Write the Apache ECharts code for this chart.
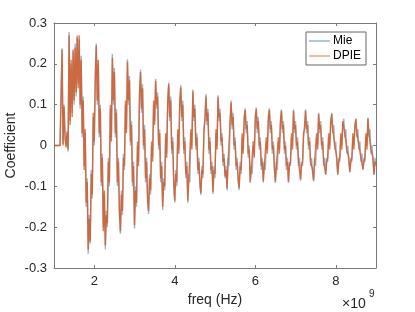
<!DOCTYPE html>
<html>
<head>
<meta charset="utf-8">
<script src="https://cdn.jsdelivr.net/npm/echarts@6.0.0/dist/echarts.min.js"></script>
<style>
html,body{margin:0;padding:0;background:#fff;}
#chart{width:415px;height:312px;}
</style>
</head>
<body>
<div id="chart"></div>
<script>
// frequency sweep (units of 1e9 Hz): uniform sampling grid
const freqStart = 1.0;
const freqStep = 0.025;

const mieValues = [
0,0,0,0,0,0,0,0,0.238,0.004,
0.1,0.015,0,0.03,-0.015,0.278,0.06,0.2,0.08,0.23,
0.1,0.25,0.12,0.27,0.15,0.26,0.09,0.22,0.02,0.12,
-0.05,0.03,-0.15,-0.08,-0.265,-0.17,-0.24,-0.06,-0.13,0.07,
0,0.17,0.25,0.1,0.2,0.02,0.1,-0.1,-0.02,-0.2,
-0.12,-0.254,-0.16,-0.2,-0.03,-0.1,0.09,0.02,0.224,0.1,
0.19,0.02,0.09,-0.1,-0.03,-0.17,-0.216,-0.11,-0.17,-0.02,
-0.06,0.1,0.04,0.211,0.1,0.17,0,0.06,-0.1,-0.04,
-0.203,-0.1,-0.15,0,-0.04,0.12,0.186,0.08,0.15,-0.01,
0.05,-0.09,-0.03,-0.14,-0.168,-0.07,-0.12,0,-0.03,0.1,
0.06,0.163,0.09,0.13,-0.01,0.04,-0.09,-0.04,-0.158,-0.08,
-0.11,0.02,-0.02,0.1,0.154,0.06,0.12,-0.02,0.02,-0.1,
-0.14,-0.06,-0.1,0.03,-0.01,0.1,0.148,0.06,0.11,-0.02,
0.02,-0.08,-0.04,-0.141,-0.07,-0.09,0.03,0,0.137,0.06,
0.1,-0.01,0.03,-0.07,-0.03,-0.1,-0.121,-0.05,-0.08,0.03,
0.07,0.126,0.05,0.09,-0.02,0.02,-0.07,-0.04,-0.119,-0.05,
-0.08,0.03,0,0.123,0.06,0.09,0,0.03,-0.05,-0.02,
-0.08,-0.05,-0.11,-0.03,-0.05,0.05,0.11,0.04,0.08,-0.01,
0.02,-0.06,-0.03,-0.09,-0.109,-0.04,-0.07,0.02,-0.01,0.06,
0.091,0.03,0.06,-0.03,0,-0.092,-0.05,-0.07,0,-0.02,
0.06,0.093,0.03,0.07,-0.01,0.02,-0.06,-0.03,-0.091,-0.04,
-0.06,0.01,-0.01,0.06,0.091,0.03,0.06,-0.02,0.01,-0.06,
-0.092,-0.04,-0.06,0.01,-0.01,0.05,0.088,0.03,0.06,-0.02,
0.01,-0.06,-0.03,-0.092,-0.04,-0.05,0.02,0,0.088,0.03,
0.06,-0.01,0.02,-0.05,-0.03,-0.086,-0.04,-0.05,0.02,0.05,
0.088,0.03,0.06,-0.01,0.02,-0.05,-0.03,-0.07,-0.088,-0.03,
-0.05,0.02,0,0.08,0.03,0.06,-0.01,0.02,-0.05,-0.03,
-0.072,-0.03,-0.04,0.02,0,0.05,0.08,0.03,0.05,-0.01,
0.01,-0.04,-0.072,-0.03,-0.04,0.02,0,0.05,0.066,0.02,
0.04,-0.02,0,-0.04,-0.066,-0.03,-0.04,0.02,0,0.04,
0.066,0.02,0.04,-0.01,0.01,-0.04,-0.02,-0.06,-0.03,-0.04,
0.02,0,0.068,0.02,0.04,-0.02,0,-0.04,-0.072,-0.03,
-0.05
];

const dpieValues = [
0,0,0,0,0,0,0,0,0.235,0.0,
0.095,0.02,-0.005,0.035,-0.01,0.27,0.05,0.21,0.07,0.235,
0.11,0.24,0.13,0.265,0.14,0.27,0.1,0.21,0.03,0.11,
-0.06,0.04,-0.14,-0.09,-0.255,-0.18,-0.235,-0.07,-0.12,0.08,
0.01,0.16,0.245,0.11,0.21,0.03,0.09,-0.09,-0.03,-0.21,
-0.11,-0.245,-0.17,-0.19,-0.04,-0.09,0.1,0.01,0.215,0.11,
0.18,0.03,0.08,-0.09,-0.04,-0.16,-0.21,-0.12,-0.16,-0.03,
-0.05,0.11,0.03,0.205,0.11,0.16,0.01,0.05,-0.09,-0.05,
-0.195,-0.11,-0.14,0.01,-0.05,0.13,0.18,0.09,0.14,0.0,
0.04,-0.08,-0.04,-0.13,-0.16,-0.08,-0.11,0.01,-0.04,0.11,
0.05,0.158,0.1,0.12,0.0,0.03,-0.08,-0.05,-0.15,-0.09,
-0.1,0.03,-0.03,0.11,0.15,0.07,0.11,-0.01,0.01,-0.09,
-0.135,-0.07,-0.09,0.04,-0.02,0.11,0.142,0.07,0.1,-0.01,
0.01,-0.07,-0.05,-0.135,-0.08,-0.08,0.04,-0.01,0.132,0.07,
0.09,0.0,0.02,-0.06,-0.04,-0.09,-0.116,-0.06,-0.07,0.04,
0.06,0.12,0.06,0.08,-0.01,0.01,-0.06,-0.05,-0.113,-0.06,
-0.07,0.04,-0.01,0.118,0.07,0.08,0.01,0.02,-0.04,-0.03,
-0.075,-0.06,-0.105,-0.04,-0.04,0.06,0.105,0.05,0.07,0.0,
0.01,-0.05,-0.04,-0.08,-0.104,-0.05,-0.06,0.03,-0.02,0.07,
0.087,0.04,0.05,-0.02,-0.01,-0.088,-0.06,-0.06,0.01,-0.03,
0.07,0.089,0.04,0.06,0.0,0.01,-0.05,-0.04,-0.087,-0.05,
-0.05,0.02,-0.02,0.07,0.087,0.04,0.05,-0.01,0.0,-0.05,
-0.088,-0.05,-0.05,0.02,-0.02,0.06,0.085,0.04,0.05,-0.01,
0.0,-0.05,-0.04,-0.088,-0.05,-0.04,0.03,-0.01,0.085,0.04,
0.05,0.0,0.01,-0.04,-0.04,-0.083,-0.05,-0.04,0.03,0.04,
0.085,0.04,0.05,0.0,0.01,-0.04,-0.04,-0.06,-0.085,-0.04,
-0.04,0.03,-0.01,0.077,0.04,0.05,0.0,0.01,-0.04,-0.04,
-0.07,-0.04,-0.03,0.03,-0.01,0.06,0.077,0.04,0.04,0.0,
0.0,-0.03,-0.07,-0.04,-0.03,0.03,-0.01,0.06,0.064,0.03,
0.03,-0.01,-0.01,-0.03,-0.064,-0.04,-0.03,0.03,-0.01,0.05,
0.064,0.03,0.03,0.0,0.0,-0.03,-0.03,-0.058,-0.04,-0.03,
0.03,-0.01,0.066,0.03,0.03,-0.01,-0.01,-0.03,-0.07,-0.04,
-0.045
];

const xTicks = [2, 4, 6, 8];
const yTicks = [-0.3, -0.2, -0.1, 0, 0.1, 0.2, 0.3];
const seriesNames = ['Mie', 'DPIE'];

const toPairs = vals => vals.map((v, i) => [freqStart + i * freqStep, v]);

const FONT = "'Liberation Sans', Arial, Helvetica, sans-serif";
const AXIS_COLOR = '#7a7a7a';
const TEXT_COLOR = '#262626';

const chart = echarts.init(document.getElementById('chart'), null, {renderer: 'canvas'});

function xAx(pos, show) {
  return {
    type: 'value', min: 1, max: 9, position: pos,
    axisLine: {show: true, onZero: false, lineStyle: {color: AXIS_COLOR, width: 1}},
    axisTick: {show: true, inside: true, length: 3, customValues: xTicks, lineStyle: {color: AXIS_COLOR}},
    axisLabel: {show: show, customValues: xTicks, color: TEXT_COLOR, fontSize: 13, fontFamily: FONT, margin: 7,
      formatter: v => String(v)},
    splitLine: {show: false},
    name: show ? 'freq (Hz)' : '',
    nameLocation: 'middle', nameGap: 25, nameMoveOverlap: false,
    nameTextStyle: {fontSize: 14, color: TEXT_COLOR, fontFamily: FONT}
  };
}
function yAx(pos, show) {
  return {
    type: 'value', min: -0.3, max: 0.3, position: pos,
    axisLine: {show: true, onZero: false, lineStyle: {color: AXIS_COLOR, width: 1}},
    axisTick: {show: true, inside: true, length: 3, customValues: yTicks, lineStyle: {color: AXIS_COLOR}},
    axisLabel: {show: show, customValues: yTicks, color: TEXT_COLOR, fontSize: 13, fontFamily: FONT, margin: 7,
      formatter: v => (Math.abs(v) < 1e-9 ? '0' : v.toFixed(1))},
    splitLine: {show: false},
    name: show ? 'Coefficient' : '',
    nameLocation: 'middle', nameGap: 36, nameMoveOverlap: false,
    nameTextStyle: {fontSize: 14, color: TEXT_COLOR, fontFamily: FONT}
  };
}

chart.setOption({
  animation: false,
  backgroundColor: '#ffffff',
  grid: {left: 54, right: 39, top: 23, bottom: 44, containLabel: false, outerBoundsMode: 'none'},
  xAxis: [xAx('bottom', true), xAx('top', false)],
  yAxis: [yAx('left', true), yAx('right', false)],
  legend: {
    orient: 'vertical', left: 306, top: 32,
    backgroundColor: '#ffffff', borderColor: '#666', borderWidth: 1,
    padding: [3, 5, 3, 3], itemGap: 3, itemWidth: 21, itemHeight: 2,
    icon: 'rect',
    textStyle: {fontSize: 12, color: '#000', fontFamily: FONT, padding: [0, 0, 0, -2]},
    data: [
      {name: seriesNames[0], itemStyle: {color: '#a7c9e6'}},
      {name: seriesNames[1], itemStyle: {color: '#f2b99f'}}
    ]
  },
  series: [
    {name: seriesNames[0], type: 'line', data: toPairs(mieValues), showSymbol: false,
      xAxisIndex: 0, yAxisIndex: 0,
      lineStyle: {color: 'rgba(60,110,150,0.5)', width: 1.4}, itemStyle: {color: '#a7c9e6'}},
    {name: seriesNames[1], type: 'line', data: toPairs(dpieValues), showSymbol: false,
      xAxisIndex: 0, yAxisIndex: 0,
      lineStyle: {color: 'rgba(217,83,25,0.78)', width: 1.4}, itemStyle: {color: '#f2b99f'}}
  ],
  graphic: [
    {type: 'text', left: 342, top: 297, style: {text: '×10', fontSize: 14, fill: TEXT_COLOR, fontFamily: FONT}},
    {type: 'text', left: 369, top: 289, style: {text: '9', fontSize: 10, fill: TEXT_COLOR, fontFamily: FONT}}
  ]
});
</script>
</body>
</html>
